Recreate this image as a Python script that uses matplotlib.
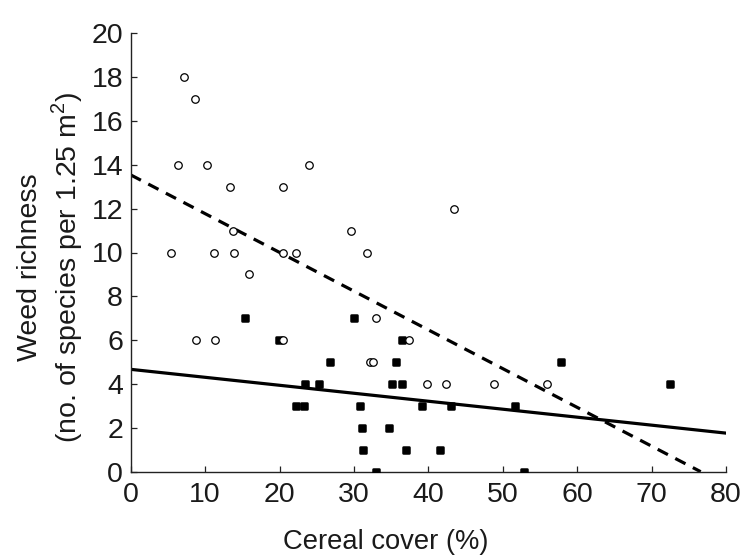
import matplotlib
matplotlib.use('Agg')
import matplotlib.pyplot as plt
from matplotlib.markers import MarkerStyle

plt.rcParams['font.family'] = ['Liberation Sans', 'DejaVu Sans']
plt.rcParams['mathtext.fontset'] = 'custom'
plt.rcParams['mathtext.rm'] = 'Liberation Sans'

# hollow circles
open_x = [7.2, 8.6, 6.4, 10.2, 23.9, 13.3, 20.4, 43.4, 13.8, 29.6, 5.4, 11.2, 13.9, 20.4,
          22.2, 31.8, 15.9, 32.9, 8.8, 11.3, 20.5, 37.4, 32.1, 32.6, 39.8, 42.4, 48.8, 56.0]
open_y = [18, 17, 14, 14, 14, 13, 13, 12, 11, 11, 10, 10, 10, 10,
          10, 10, 9, 7, 6, 6, 6, 6, 5, 5, 4, 4, 4, 4]

# filled squares
fill_x = [15.4, 30.05, 19.9, 36.4, 26.8, 35.6, 57.8, 23.4, 25.3, 35.1, 36.4, 72.5,
          22.2, 23.3, 30.8, 39.2, 43.1, 51.7, 31.1, 34.7, 31.2, 37.0, 41.5, 32.9, 52.8]
fill_y = [7, 7, 6, 6, 5, 5, 5, 4, 4, 4, 4, 4,
          3, 3, 3, 3, 3, 3, 2, 2, 1, 1, 1, 0, 0]

# fitted lines (end points)
dash_x = [0, 76.6]
dash_y = [13.54, 0]
solid_x = [0, 80]
solid_y = [4.67, 1.76]

xticks = [0, 10, 20, 30, 40, 50, 60, 70, 80]
yticks = [0, 2, 4, 6, 8, 10, 12, 14, 16, 18, 20]

fig = plt.figure(figsize=(7.46, 5.56), dpi=100)
ax = fig.add_axes([130.7 / 746, 84.3 / 556, 595.3 / 746, 438.4 / 556])

ax.plot(dash_x, dash_y, color='black', lw=2.3, dashes=(3.6, 2.6), zorder=2)
ax.plot(solid_x, solid_y, color='black', lw=2.3, zorder=2)

sq = MarkerStyle('s', joinstyle='round')
ax.plot(fill_x, fill_y, ls='none', marker=sq, ms=5.0, mfc='black', mec='black',
        mew=1.8, zorder=3)
ax.plot(open_x, open_y, ls='none', marker='o', ms=5.4, mfc='white', mec='black',
        mew=0.9, zorder=4)

ax.set_xlim(0, 80)
ax.set_ylim(0, 20)
ax.set_xticks(xticks)
ax.set_yticks(yticks)
for s in ['top', 'right']:
    ax.spines[s].set_visible(False)
for s in ['left', 'bottom']:
    ax.spines[s].set_linewidth(1.0)
    ax.spines[s].set_color('#222222')
ax.tick_params(direction='in', length=4, width=0.9, labelsize=20.5, colors='#222222',
               labelcolor='#1a1a1a')
ax.tick_params(axis='x', pad=7.5)
ax.tick_params(axis='y', pad=5.5)

fig.text(386 / 746, 1 - 549.3 / 556, 'Cereal cover (%)', fontsize=19.7, color='#1a1a1a',
         ha='center', va='baseline')
fig.text(37 / 746, 1 - 267 / 556, 'Weed richness', fontsize=20.5, color='#1a1a1a',
         rotation=90, rotation_mode='anchor', ha='center', va='baseline')
fig.text(76 / 746, 1 - 267 / 556, r'(no. of species per 1.25 m$^{2}$)', fontsize=20.5,
         color='#1a1a1a', rotation=90, rotation_mode='anchor', ha='center', va='baseline')

fig.savefig('out.png', dpi=100)
